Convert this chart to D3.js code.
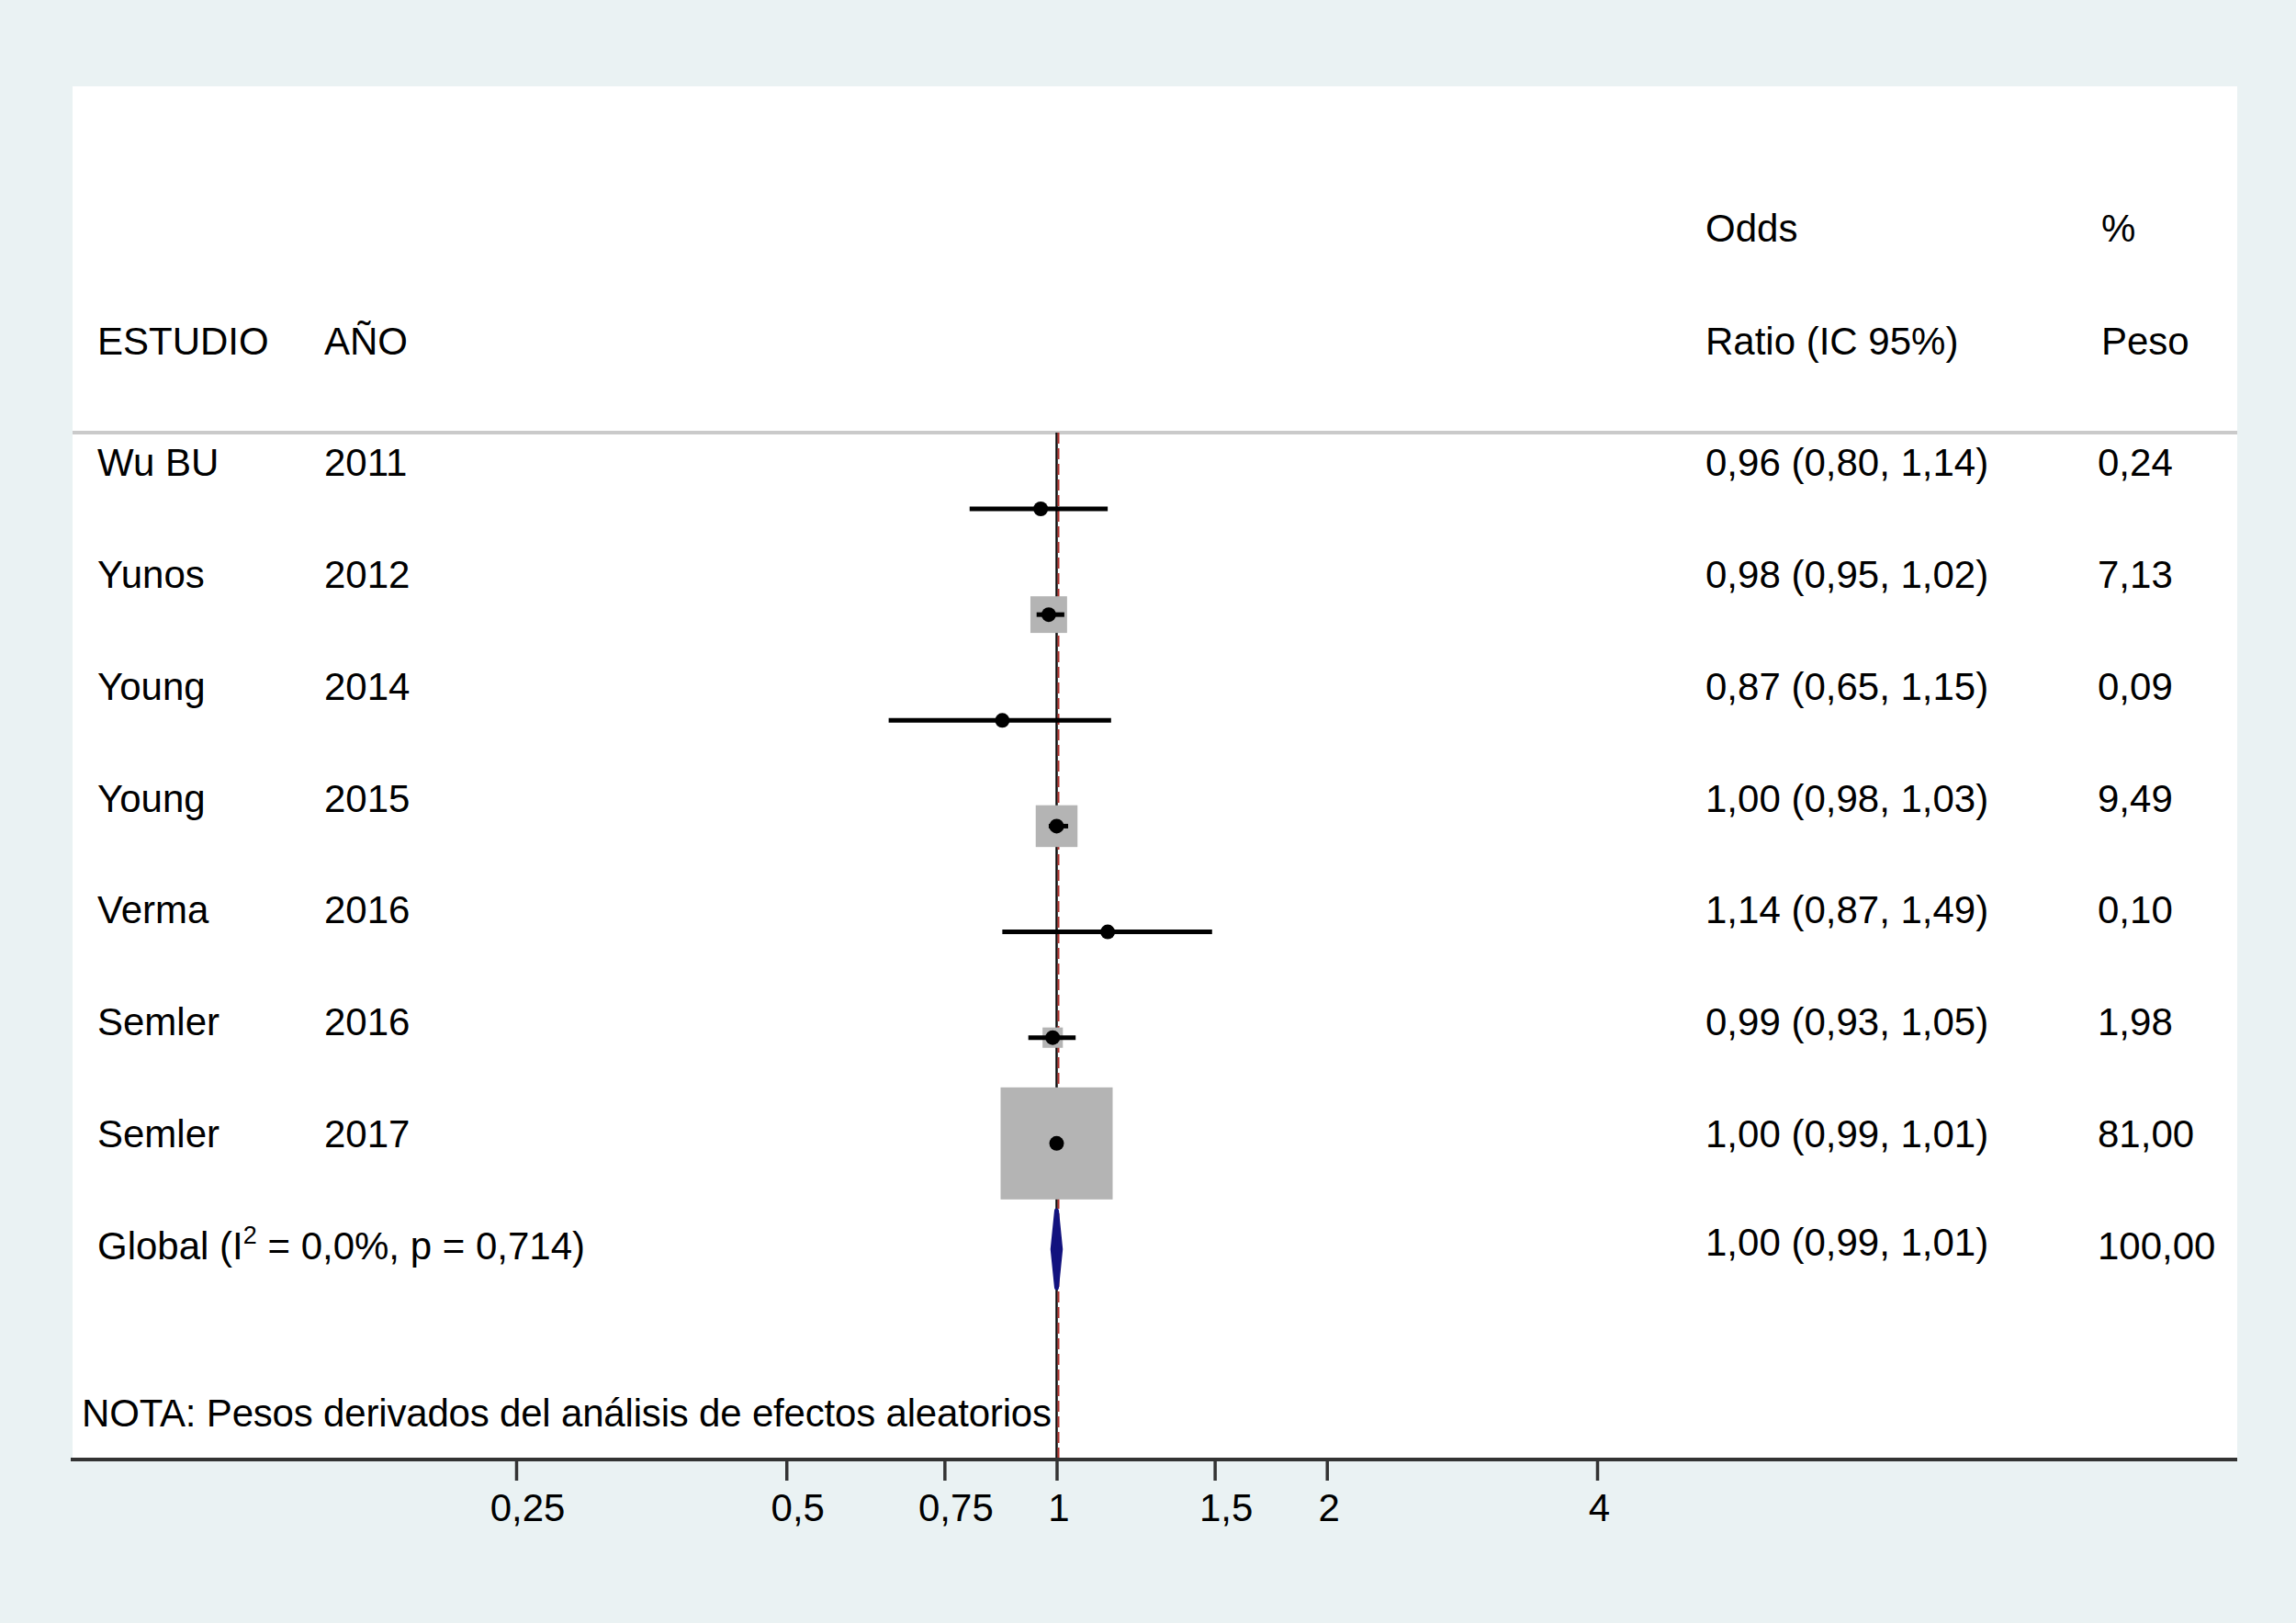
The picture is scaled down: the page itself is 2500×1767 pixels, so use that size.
<!DOCTYPE html>
<html>
<head>
<meta charset="utf-8">
<script src="https://cdnjs.cloudflare.com/ajax/libs/d3/7.8.5/d3.min.js"></script>
<style>
  body { margin: 0; background: #eaf2f3; }
  text { font-family: "Liberation Sans", Arial, Helvetica, sans-serif; fill: #000; }
</style>
</head>
<body>
<div id="forest"></div>
<script>
var width = 2500;
var height = 1767;

// datos
var studies = ["Wu BU", "Yunos", "Young", "Young", "Verma", "Semler", "Semler"];
var years = ["2011", "2012", "2014", "2015", "2016", "2016", "2017"];
var oddsRatio = [0.96, 0.98, 0.87, 1.00, 1.14, 0.99, 1.00];
var ciLow = [0.80, 0.95, 0.65, 0.98, 0.87, 0.93, 0.99];
var ciHigh = [1.14, 1.02, 1.15, 1.03, 1.49, 1.05, 1.01];
var weights = [0.24, 7.13, 0.09, 9.49, 0.10, 1.98, 81.00];
var overall = [1.00, 0.99, 1.01, 100.00]; // OR, low, high, peso
var tickValues = [0.25, 0.5, 0.75, 1, 1.5, 2, 4];
var tickLabels = ["0,25", "0,5", "0,75", "1", "1,5", "2", "4"];

var panel = { left: 79, right: 2436, top: 94, bottom: 1589, header: 471 };
var fontSize = 42;

var fmt = function (v) { return d3.format(".2f")(v).replace(".", ","); };

var svg = d3
  .select("#forest")
  .append("svg")
  .attr("width", width)
  .attr("height", height);

svg.append("rect")
  .attr("width", width)
  .attr("height", height)
  .attr("fill", "#eaf2f3");

svg.append("rect")
  .attr("x", panel.left)
  .attr("y", panel.top)
  .attr("width", panel.right - panel.left)
  .attr("height", panel.bottom - panel.top)
  .attr("fill", "#ffffff");

var xscale = d3
  .scaleLog()
  .domain([0.25, 4])
  .range([562, 1739]);

var idx = d3.range(studies.length + 1);

// y de las marcas y y de los textos (no coinciden en el original)
var ymark = d3.scalePoint().domain(idx).range([554, 1360]);
var ytext = d3.scalePoint().domain(idx).range([518, 1371]);

var boxSide = d3.scalePow().exponent(0.46).domain([0, 81]).range([0, 122]);

// linea bajo la cabecera
svg.append("line")
  .attr("x1", panel.left)
  .attr("x2", panel.right)
  .attr("y1", panel.header)
  .attr("y2", panel.header)
  .attr("stroke", "#cacaca")
  .attr("stroke-width", 4);

// linea de no efecto
svg.append("line")
  .attr("x1", xscale(1))
  .attr("x2", xscale(1))
  .attr("y1", panel.header)
  .attr("y2", panel.bottom)
  .attr("stroke", "#111")
  .attr("stroke-width", 2.5);

// linea del efecto global (roja discontinua)
svg.append("line")
  .attr("x1", xscale(overall[0]) + 2)
  .attr("x2", xscale(overall[0]) + 2)
  .attr("y1", panel.header)
  .attr("y2", panel.bottom)
  .attr("stroke", "#b0302c")
  .attr("stroke-width", 2)
  .attr("stroke-dasharray", "12,5");

var rows = studies.map(function (s, i) {
  return { study: s, year: years[i], or: oddsRatio[i], lo: ciLow[i], hi: ciHigh[i], w: weights[i], i: i };
});

// cajas grises de peso
svg.selectAll(".box")
  .data(rows)
  .enter()
  .append("rect")
  .attr("class", "box")
  .attr("x", function (d) { return xscale(d.or) - boxSide(d.w) / 2; })
  .attr("y", function (d) { return ymark(d.i) - boxSide(d.w) / 2; })
  .attr("width", function (d) { return boxSide(d.w); })
  .attr("height", function (d) { return boxSide(d.w); })
  .attr("fill", "#b4b4b4");

// intervalos de confianza
svg.selectAll(".ci")
  .data(rows)
  .enter()
  .append("line")
  .attr("class", "ci")
  .attr("x1", function (d) { return xscale(d.lo); })
  .attr("x2", function (d) { return xscale(d.hi); })
  .attr("y1", function (d) { return ymark(d.i); })
  .attr("y2", function (d) { return ymark(d.i); })
  .attr("stroke", "#000")
  .attr("stroke-width", 5);

svg.selectAll(".pt")
  .data(rows)
  .enter()
  .append("circle")
  .attr("class", "pt")
  .attr("cx", function (d) { return xscale(d.or); })
  .attr("cy", function (d) { return ymark(d.i); })
  .attr("r", 8)
  .attr("fill", "#000");

// diamante global
var gy = ymark(studies.length);
svg.append("path")
  .attr("d", "M" + xscale(overall[1]) + "," + gy +
    "L" + xscale(overall[0]) + "," + (gy - 42) +
    "L" + xscale(overall[2]) + "," + gy +
    "L" + xscale(overall[0]) + "," + (gy + 42) + "Z")
  .attr("fill", "#12127e")
  .attr("stroke", "#12127e")
  .attr("stroke-width", 5)
  .attr("stroke-linejoin", "round");

// textos
var txt = svg.append("g").attr("font-size", fontSize);

txt.append("text").attr("x", 1857).attr("y", 263).text("Odds");
txt.append("text").attr("x", 2288).attr("y", 263).text("%");
txt.append("text").attr("x", 106).attr("y", 386).text("ESTUDIO");
txt.append("text").attr("x", 353).attr("y", 386).text("AÑO");
txt.append("text").attr("x", 1857).attr("y", 386).text("Ratio (IC 95%)");
txt.append("text").attr("x", 2288).attr("y", 386).text("Peso");

txt.selectAll(".name")
  .data(rows)
  .enter()
  .append("text")
  .attr("x", 106)
  .attr("y", function (d) { return ytext(d.i); })
  .text(function (d) { return d.study; });

txt.selectAll(".year")
  .data(rows)
  .enter()
  .append("text")
  .attr("x", 353)
  .attr("y", function (d) { return ytext(d.i); })
  .text(function (d) { return d.year; });

txt.selectAll(".est")
  .data(rows)
  .enter()
  .append("text")
  .attr("x", 1857)
  .attr("y", function (d) { return ytext(d.i); })
  .text(function (d) { return fmt(d.or) + " (" + fmt(d.lo) + ", " + fmt(d.hi) + ")"; });

txt.selectAll(".peso")
  .data(rows)
  .enter()
  .append("text")
  .attr("x", 2284)
  .attr("y", function (d) { return ytext(d.i); })
  .text(function (d) { return fmt(d.w); });

var gt = ytext(studies.length);
var glob = txt.append("text").attr("x", 106).attr("y", gt);
glob.append("tspan").text("Global (I");
glob.append("tspan").attr("font-size", 27).attr("dy", -17).text("2");
glob.append("tspan").attr("dy", 17).text(" = 0,0%, p = 0,714)");

txt.append("text").attr("x", 1857).attr("y", gt - 4)
  .text(fmt(overall[0]) + " (" + fmt(overall[1]) + ", " + fmt(overall[2]) + ")");
txt.append("text").attr("x", 2284).attr("y", gt).text(fmt(overall[3]));

txt.append("text").attr("x", 89).attr("y", 1553)
  .attr("textLength", 1056)
  .text("NOTA: Pesos derivados del análisis de efectos aleatorios");

// eje x
var xaxis = d3
  .axisBottom()
  .scale(xscale)
  .tickValues(tickValues)
  .tickFormat(function (d, i) { return tickLabels[i]; })
  .tickSize(23)
  .tickPadding(14)
  .tickSizeOuter(0);

var gx = svg.append("g")
  .attr("transform", "translate(0," + panel.bottom + ")")
  .call(xaxis);

gx.select(".domain").remove();
gx.selectAll(".tick line").attr("stroke", "#333").attr("stroke-width", 3.5);
gx.selectAll(".tick text")
  .attr("font-size", fontSize)
  .attr("font-family", "Liberation Sans, Arial, sans-serif")
  .attr("fill", "#000")
  .attr("dx", function (d, i) { return tickLabels[i].indexOf(",") >= 0 ? 12 : 2; });

svg.append("line")
  .attr("x1", panel.left - 2)
  .attr("x2", panel.right)
  .attr("y1", panel.bottom)
  .attr("y2", panel.bottom)
  .attr("stroke", "#333")
  .attr("stroke-width", 4);
</script>
</body>
</html>
